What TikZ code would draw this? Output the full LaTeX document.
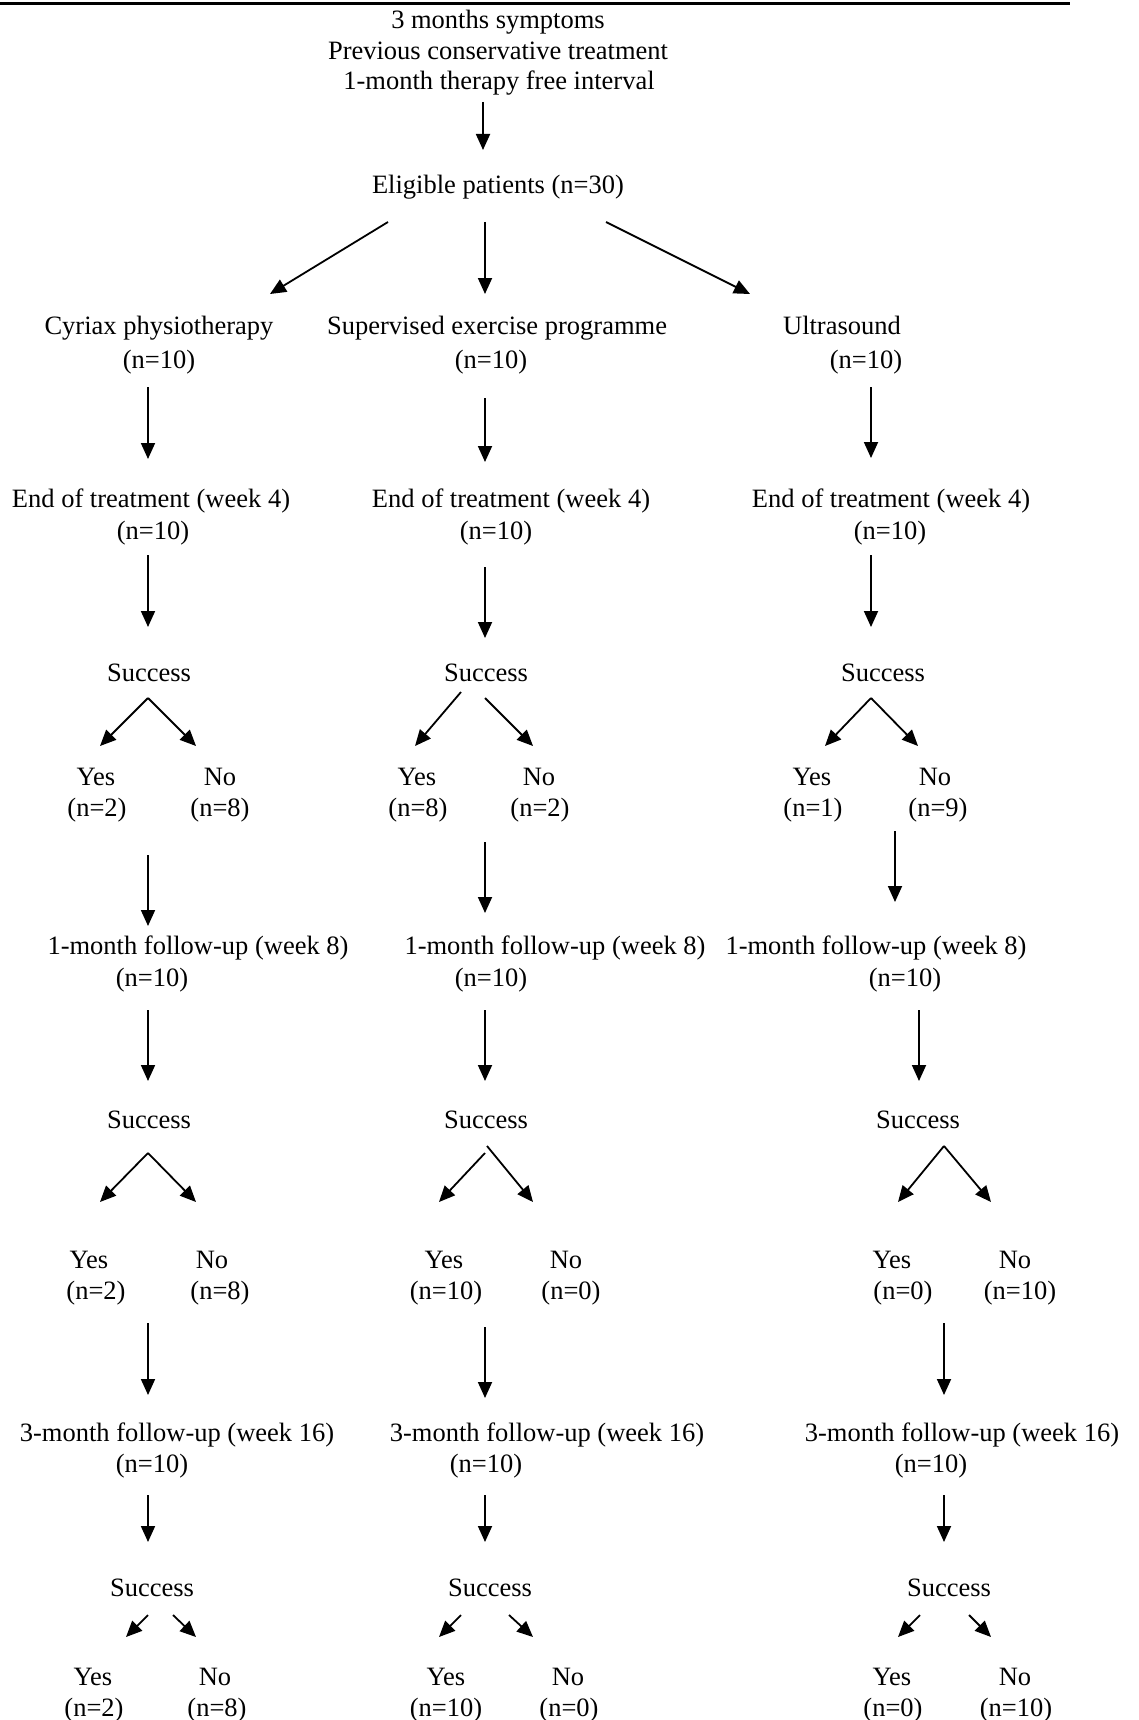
\documentclass[tikz,border=0pt]{standalone}
\usepackage{fontspec}
\setmainfont{Liberation Serif}
\usetikzlibrary{arrows.meta}
\begin{document}
\begin{tikzpicture}[x=1pt,y=-1pt,
  every node/.style={inner sep=0pt,anchor=base,font=\fontsize{26.5pt}{30.5pt}\selectfont},
  arr/.style={-{Triangle[length=16pt,width=14pt]},line width=1.8pt}]
  \useasboundingbox (0,0) rectangle (1139,1720);
  \draw[line width=3pt] (0,4) -- (1070,4);

  % inclusion and groups
  \node (t1) at (498,29) {3 months symptoms};
  \node (t2) at (498,60) {Previous conservative treatment};
  \node (t3) at (499,90) {1-month therapy free interval};
  \node (elig) at (498,194) {Eligible patients (n=30)};
  \node (a1) at (159,334) {Cyriax physiotherapy};
  \node (a1n) at (159,368) {(n=10)};
  \node (b1) at (497,334) {Supervised exercise programme};
  \node (b1n) at (491,368) {(n=10)};
  \node (c1) at (842,334) {Ultrasound};
  \node (c1n) at (866,368) {(n=10)};

  % week 4
  \node (a2) at (151,507) {End of treatment (week 4)};
  \node (a2n) at (153,539) {(n=10)};
  \node (b2) at (511,507) {End of treatment (week 4)};
  \node (b2n) at (496,539) {(n=10)};
  \node (c2) at (891,507) {End of treatment (week 4)};
  \node (c2n) at (890,539) {(n=10)};
  \node (a3) at (149,681) {Success};
  \node (b3) at (486,681) {Success};
  \node (c3) at (883,681) {Success};
  \node (a3y) at (96,785) {Yes};
  \node (a3yn) at (97,816) {(n=2)};
  \node (a3x) at (220,785) {No};
  \node (a3xn) at (220,816) {(n=8)};
  \node (b3y) at (417,785) {Yes};
  \node (b3yn) at (418,816) {(n=8)};
  \node (b3x) at (539,785) {No};
  \node (b3xn) at (540,816) {(n=2)};
  \node (c3y) at (812,785) {Yes};
  \node (c3yn) at (813,816) {(n=1)};
  \node (c3x) at (935,785) {No};
  \node (c3xn) at (938,816) {(n=9)};

  % week 8
  \node (a4) at (198,954) {1-month follow-up (week 8)};
  \node (a4n) at (152,986) {(n=10)};
  \node (b4) at (555,954) {1-month follow-up (week 8)};
  \node (b4n) at (491,986) {(n=10)};
  \node (c4) at (876,954) {1-month follow-up (week 8)};
  \node (c4n) at (905,986) {(n=10)};
  \node (a5) at (149,1128) {Success};
  \node (b5) at (486,1128) {Success};
  \node (c5) at (918,1128) {Success};
  \node (a5y) at (89,1268) {Yes};
  \node (a5yn) at (96,1299) {(n=2)};
  \node (a5x) at (212,1268) {No};
  \node (a5xn) at (220,1299) {(n=8)};
  \node (b5y) at (444,1268) {Yes};
  \node (b5yn) at (446,1299) {(n=10)};
  \node (b5x) at (566,1268) {No};
  \node (b5xn) at (571,1299) {(n=0)};
  \node (c5y) at (892,1268) {Yes};
  \node (c5yn) at (903,1299) {(n=0)};
  \node (c5x) at (1015,1268) {No};
  \node (c5xn) at (1020,1299) {(n=10)};

  % week 16
  \node (a6) at (177,1441) {3-month follow-up (week 16)};
  \node (a6n) at (152,1472) {(n=10)};
  \node (b6) at (547,1441) {3-month follow-up (week 16)};
  \node (b6n) at (486,1472) {(n=10)};
  \node (c6) at (962,1441) {3-month follow-up (week 16)};
  \node (c6n) at (931,1472) {(n=10)};
  \node (a7) at (152,1596) {Success};
  \node (b7) at (490,1596) {Success};
  \node (c7) at (949,1596) {Success};
  \node (a7y) at (93,1685) {Yes};
  \node (a7yn) at (94,1716) {(n=2)};
  \node (a7x) at (215,1685) {No};
  \node (a7xn) at (217,1716) {(n=8)};
  \node (b7y) at (446,1685) {Yes};
  \node (b7yn) at (446,1716) {(n=10)};
  \node (b7x) at (568,1685) {No};
  \node (b7xn) at (569,1716) {(n=0)};
  \node (c7y) at (892,1685) {Yes};
  \node (c7yn) at (893,1716) {(n=0)};
  \node (c7x) at (1015,1685) {No};
  \node (c7xn) at (1016,1716) {(n=10)};

  % arrow ends
  \coordinate (s0) at (483,102);  \coordinate (e0) at (483,150);
  \coordinate (sa0) at (388,222); \coordinate (ea0) at (270,294);
  \coordinate (sb0) at (485,222); \coordinate (eb0) at (485,294);
  \coordinate (sc0) at (606,222); \coordinate (ec0) at (750,294);
  \coordinate (sa1) at (148,387); \coordinate (ea1) at (148,459);
  \coordinate (sb1) at (485,398); \coordinate (eb1) at (485,462);
  \coordinate (sc1) at (871,387); \coordinate (ec1) at (871,458);
  \coordinate (sa2) at (148,555); \coordinate (ea2) at (148,627);
  \coordinate (sb2) at (485,567); \coordinate (eb2) at (485,638);
  \coordinate (sc2) at (871,555); \coordinate (ec2) at (871,627);
  \coordinate (va3) at (148,698); \coordinate (ya3) at (100,746); \coordinate (xa3) at (196,746);
  \coordinate (vb3) at (461,692); \coordinate (wb3) at (485,698);
  \coordinate (yb3) at (415,746); \coordinate (xb3) at (533,746);
  \coordinate (vc3) at (871,698); \coordinate (yc3) at (825,746); \coordinate (xc3) at (918,746);
  \coordinate (sa3) at (148,855); \coordinate (ea3) at (148,926);
  \coordinate (sb3) at (485,842); \coordinate (eb3) at (485,913);
  \coordinate (sc3) at (895,831); \coordinate (ec3) at (895,902);
  \coordinate (sa4) at (148,1010); \coordinate (ea4) at (148,1081);
  \coordinate (sb4) at (485,1010); \coordinate (eb4) at (485,1081);
  \coordinate (sc4) at (919,1010); \coordinate (ec4) at (919,1081);
  \coordinate (va5) at (148,1153); \coordinate (ya5) at (100,1202); \coordinate (xa5) at (196,1202);
  \coordinate (vb5) at (485,1153); \coordinate (wb5) at (487,1146);
  \coordinate (yb5) at (439,1202); \coordinate (xb5) at (533,1202);
  \coordinate (vc5) at (944,1146); \coordinate (yc5) at (898,1202); \coordinate (xc5) at (991,1202);
  \coordinate (sa5) at (148,1323); \coordinate (ea5) at (148,1395);
  \coordinate (sb5) at (485,1327); \coordinate (eb5) at (485,1398);
  \coordinate (sc5) at (944,1323); \coordinate (ec5) at (944,1395);
  \coordinate (sa6) at (148,1495); \coordinate (ea6) at (148,1542);
  \coordinate (sb6) at (485,1495); \coordinate (eb6) at (485,1542);
  \coordinate (sc6) at (944,1495); \coordinate (ec6) at (944,1542);
  \coordinate (va7) at (148,1615); \coordinate (ya7) at (126,1637);
  \coordinate (wa7) at (173,1615); \coordinate (xa7) at (196,1637);
  \coordinate (vb7) at (461,1615); \coordinate (yb7) at (439,1637);
  \coordinate (wb7) at (509,1615); \coordinate (xb7) at (533,1637);
  \coordinate (vc7) at (920,1615); \coordinate (yc7) at (898,1637);
  \coordinate (wc7) at (969,1615); \coordinate (xc7) at (991,1637);

  \draw[arr] (s0) -- (e0);
  \draw[arr] (sa0) -- (ea0);
  \draw[arr] (sb0) -- (eb0);
  \draw[arr] (sc0) -- (ec0);
  \draw[arr] (sa1) -- (ea1);
  \draw[arr] (sb1) -- (eb1);
  \draw[arr] (sc1) -- (ec1);
  \draw[arr] (sa2) -- (ea2);
  \draw[arr] (sb2) -- (eb2);
  \draw[arr] (sc2) -- (ec2);
  \draw[arr] (va3) -- (ya3);
  \draw[arr] (va3) -- (xa3);
  \draw[arr] (vb3) -- (yb3);
  \draw[arr] (wb3) -- (xb3);
  \draw[arr] (vc3) -- (yc3);
  \draw[arr] (vc3) -- (xc3);
  \draw[arr] (sa3) -- (ea3);
  \draw[arr] (sb3) -- (eb3);
  \draw[arr] (sc3) -- (ec3);
  \draw[arr] (sa4) -- (ea4);
  \draw[arr] (sb4) -- (eb4);
  \draw[arr] (sc4) -- (ec4);
  \draw[arr] (va5) -- (ya5);
  \draw[arr] (va5) -- (xa5);
  \draw[arr] (vb5) -- (yb5);
  \draw[arr] (wb5) -- (xb5);
  \draw[arr] (vc5) -- (yc5);
  \draw[arr] (vc5) -- (xc5);
  \draw[arr] (sa5) -- (ea5);
  \draw[arr] (sb5) -- (eb5);
  \draw[arr] (sc5) -- (ec5);
  \draw[arr] (sa6) -- (ea6);
  \draw[arr] (sb6) -- (eb6);
  \draw[arr] (sc6) -- (ec6);
  \draw[arr] (va7) -- (ya7);
  \draw[arr] (wa7) -- (xa7);
  \draw[arr] (vb7) -- (yb7);
  \draw[arr] (wb7) -- (xb7);
  \draw[arr] (vc7) -- (yc7);
  \draw[arr] (wc7) -- (xc7);
\end{tikzpicture}
\end{document}
